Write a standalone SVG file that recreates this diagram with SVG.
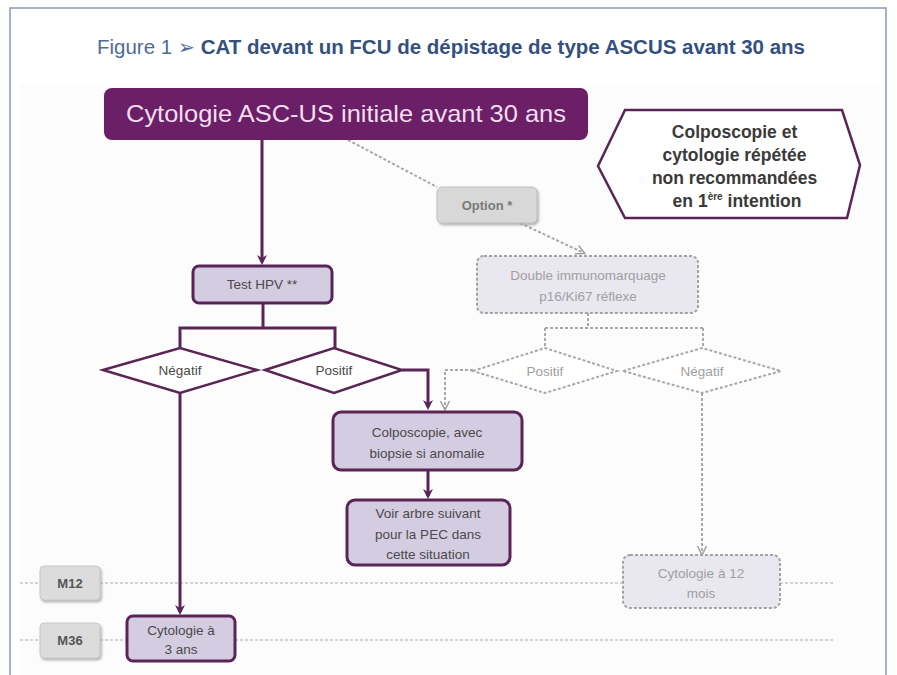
<svg xmlns="http://www.w3.org/2000/svg" width="897" height="675" viewBox="0 0 897 675">
<style>
.t{font-family:"Liberation Sans",Arial,sans-serif}
.pbox{fill:#d4cce1;stroke:#5a2556;stroke-width:3}
.ptxt{font-family:"Liberation Sans",Arial,sans-serif;font-size:13.5px;fill:#4a4a4a;text-anchor:middle}
.gbox{fill:#e9e7f0;stroke:#a3a3a3;stroke-width:2;stroke-dasharray:3 2}
.gtxt{font-family:"Liberation Sans",Arial,sans-serif;font-size:13.5px;fill:#a0a0a0;text-anchor:middle}
.pline{fill:none;stroke:#5a2556;stroke-width:3}
.gline{fill:none;stroke:#a8a8a8;stroke-width:2;stroke-dasharray:3 2}
.dia{fill:#ffffff;stroke:#5a2556;stroke-width:2.5}
.gdia{fill:#ffffff;stroke:#a8a8a8;stroke-width:2;stroke-dasharray:3 2}
.tl{fill:none;stroke:#c4c4c4;stroke-width:1.5;stroke-dasharray:3 2}
.mbox{fill:#dcdcdc;stroke:#c8c8c8;stroke-width:1}
.mtxt{font-family:"Liberation Sans",Arial,sans-serif;font-size:13px;font-weight:bold;fill:#555;text-anchor:middle}
</style>
<defs>
<marker id="pa" markerUnits="userSpaceOnUse" viewBox="0 0 12 12" markerWidth="12" markerHeight="12" refX="8" refY="6" orient="auto">
<path d="M1,1 L11,6 L1,11 L4,6 z" fill="#5a2556"/>
</marker>
<marker id="ga" markerUnits="userSpaceOnUse" viewBox="0 0 12 12" markerWidth="12" markerHeight="12" refX="9" refY="6" orient="auto">
<path d="M1,1.5 L10,6 L1,10.5" fill="none" stroke="#a0a0a0" stroke-width="1.5"/>
</marker>
<filter id="sh" x="-10%" y="-10%" width="130%" height="140%">
<feDropShadow dx="1.5" dy="2" stdDeviation="1" flood-color="#888" flood-opacity="0.6"/>
</filter>
</defs>

<rect x="0" y="0" width="897" height="675" fill="#ffffff"/>
<rect x="20" y="85" width="860" height="590" fill="#fcfcfc"/>
<path d="M10,675 L10,8 L886,8 L886,675" fill="none" stroke="#8a98b8" stroke-width="1.5"/>

<g id="title">
<text class="t" x="97" y="54" font-size="20" textLength="708" lengthAdjust="spacingAndGlyphs"><tspan fill="#4f6a99">Figure 1 </tspan><tspan fill="#4f6a99" font-family="DejaVu Sans,sans-serif">➢</tspan><tspan fill="#34507f" font-weight="bold"> CAT devant un FCU de dépistage de type ASCUS avant 30 ans</tspan></text>
</g>

<g id="timeline">
<line class="tl" x1="20" y1="583" x2="835" y2="583"/>
<line class="tl" x1="20" y1="640" x2="835" y2="640"/>
</g>

<g id="connectors">
<path class="pline" d="M262,140 L262,262" marker-end="url(#pa)"/>
<path class="pline" d="M263,304 L263,328 M180,328 L335,328 M180,326.5 L180,348 M335,326.5 L335,348"/>
<path class="pline" d="M402,370 L428,370 L428,407" marker-end="url(#pa)"/>
<path class="pline" d="M428,470 L428,496" marker-end="url(#pa)"/>
<path class="pline" d="M180,393 L180,612" marker-end="url(#pa)"/>
<path class="gline" d="M348,140 L437,187"/>
<path class="gline" d="M520,223 L584,253" marker-end="url(#ga)"/>
<path class="gline" d="M588,313 L588,328 M545,328 L703,328 M545,328 L545,348 M703,328 L703,348"/>
<path class="gline" d="M473,370 L445,370 L445,409" marker-end="url(#ga)"/>
<path class="gline" d="M702,393 L702,554" marker-end="url(#ga)"/>
</g>

<g id="n-start">
<rect x="104" y="88" width="484" height="52" rx="8" fill="#6b1f66"/>
<text class="t" x="346" y="122" font-size="24" fill="#f2deef" text-anchor="middle" textLength="440" lengthAdjust="spacingAndGlyphs">Cytologie ASC-US initiale avant 30 ans</text>
</g>

<g id="n-note">
<path d="M625,110 L842,110 L860,165 L847,218 L625,218 L598,166 Z" fill="#ffffff" stroke="#5a2556" stroke-width="2.5"/>
<text class="t" font-size="17.5" font-weight="bold" fill="#3a3a3a" text-anchor="middle">
<tspan x="737" y="138">Colposcopie et</tspan>
<tspan x="737" y="161">cytologie répétée</tspan>
<tspan x="737" y="184">non recommandées</tspan>
<tspan x="737" y="207">en 1<tspan font-size="10" dy="-7">ère</tspan><tspan dy="7"> intention</tspan></tspan>
</text>
</g>

<g id="n-option">
<rect x="437" y="187" width="100" height="36" rx="5" fill="#d8d8d8" stroke="#c0c0c0" filter="url(#sh)"/>
<text class="t" x="487" y="210" font-size="13" font-weight="bold" fill="#7a7a7a" text-anchor="middle">Option *</text>
</g>

<g id="n-testhpv">
<rect class="pbox" x="193" y="266" width="139" height="37" rx="6"/>
<text class="ptxt" x="262" y="289">Test HPV **</text>
</g>

<g id="n-double">
<rect class="gbox" x="477" y="256" width="221" height="57" rx="7"/>
<text class="gtxt" x="588" y="280">Double immunomarquage</text>
<text class="gtxt" x="588" y="301">p16/Ki67 réflexe</text>
</g>

<g id="n-neg">
<path class="dia" d="M103,370 L180,348 L257,370 L180,393 Z"/>
<text class="ptxt" x="180" y="375">Négatif</text>
</g>

<g id="n-pos">
<path class="dia" d="M265,370 L334,348 L402,370 L334,393 Z"/>
<text class="ptxt" x="334" y="375">Positif</text>
</g>

<g id="n-gpos">
<path class="gdia" d="M473,371 L545,348 L617,371 L545,393 Z"/>
<text class="gtxt" x="545" y="376">Positif</text>
</g>

<g id="n-gneg">
<path class="gdia" d="M623,371 L702,348 L781,371 L702,393 Z"/>
<text class="gtxt" x="702" y="376">Négatif</text>
</g>

<g id="n-colpo">
<rect class="pbox" x="333" y="412" width="189" height="58" rx="8"/>
<text class="ptxt" x="427" y="437">Colposcopie, avec</text>
<text class="ptxt" x="427" y="458">biopsie si anomalie</text>
</g>

<g id="n-voir">
<rect class="pbox" x="347" y="500" width="163" height="65" rx="8"/>
<text class="ptxt" x="428" y="518">Voir arbre suivant</text>
<text class="ptxt" x="428" y="539">pour la PEC dans</text>
<text class="ptxt" x="428" y="559">cette situation</text>
</g>

<g id="n-cyto12">
<rect class="gbox" x="623" y="555" width="157" height="53" rx="7"/>
<text class="gtxt" x="701" y="578">Cytologie à 12</text>
<text class="gtxt" x="701" y="598">mois</text>
</g>

<g id="n-m12">
<rect class="mbox" x="40" y="566" width="60" height="34" rx="4" filter="url(#sh)"/>
<text class="mtxt" x="70" y="588">M12</text>
</g>

<g id="n-m36">
<rect class="mbox" x="40" y="623" width="60" height="35" rx="4" filter="url(#sh)"/>
<text class="mtxt" x="70" y="645">M36</text>
</g>

<g id="n-cyto3">
<rect class="pbox" x="127" y="616" width="108" height="45" rx="6"/>
<text class="ptxt" x="181" y="635">Cytologie à</text>
<text class="ptxt" x="181" y="654">3 ans</text>
</g>
</svg>
